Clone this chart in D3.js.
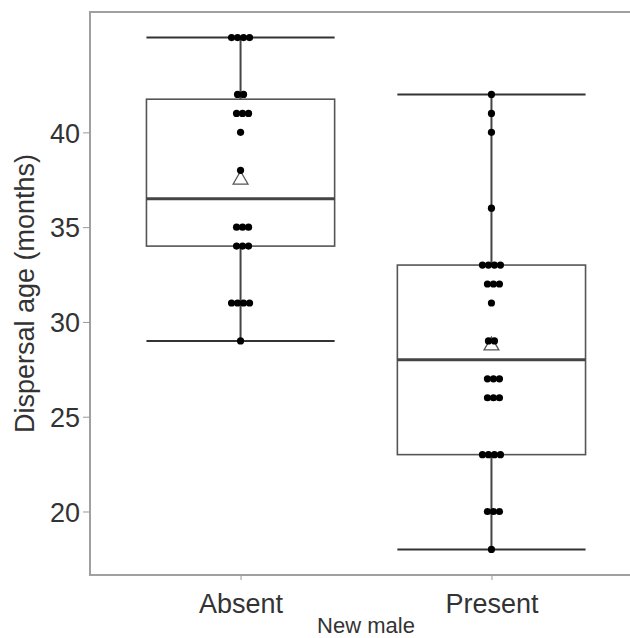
<!DOCTYPE html>
<html lang="en">
<head>
  <meta charset="UTF-8">
  <title>Dispersal age</title>
  <script src="https://cdn.jsdelivr.net/npm/d3@7"></script>
  <style>
    body { margin: 0; background: #fff; }
    text { font-family: "Liberation Sans", Arial, sans-serif; }
  </style>
</head>
<body>
  <svg width="630" height="638"></svg>
  <script>
    var groups = ['Absent', 'Present'];
    var absentAges = [45, 45, 45, 45, 42, 42, 41, 41, 41, 40, 38,
      35, 35, 35, 34, 34, 34, 31, 31, 31, 31, 29];
    var presentAges = [42, 41, 40, 36, 33, 33, 33, 33, 32, 32, 32, 31,
      29, 29, 27, 27, 27, 26, 26, 26, 23, 23, 23, 23, 20, 20, 20, 18];
    var yTicks = [20, 25, 30, 35, 40];

    var svg = d3.select('svg');
    var margin = { top: 12, left: 90, bottom: 575, right: 642 };

    var x = d3.scalePoint().domain(groups)
      .range([margin.left, margin.right]).padding(0.6);
    var y = d3.scaleLinear().domain([16.65, 46.35])
      .range([margin.bottom, margin.top]);
    var boxW = x.step() * 0.75;

    var series = [
      { name: 'Absent', values: absentAges },
      { name: 'Present', values: presentAges }
    ];
    series.forEach(function(s) {
      var v = s.values.slice().sort(d3.ascending);
      s.q1 = d3.quantile(v, 0.25);
      s.med = d3.quantile(v, 0.5);
      s.q3 = d3.quantile(v, 0.75);
      var iqr = s.q3 - s.q1;
      s.lo = d3.min(v.filter(function(d) { return d >= s.q1 - 1.5 * iqr; }));
      s.hi = d3.max(v.filter(function(d) { return d <= s.q3 + 1.5 * iqr; }));
      s.mean = d3.mean(v);
    });

    // panel border (right edge runs off the picture)
    svg.append('rect')
      .attr('x', margin.left).attr('y', margin.top)
      .attr('width', margin.right - margin.left)
      .attr('height', margin.bottom - margin.top)
      .attr('fill', 'none').attr('stroke', '#a0a0a0').attr('stroke-width', 2);

    // y axis
    var yAxis = svg.append('g')
      .attr('transform', 'translate(' + margin.left + ',0)')
      .call(d3.axisLeft(y).tickValues(yTicks).tickSize(7).tickPadding(3));
    yAxis.select('.domain').remove();
    yAxis.selectAll('line').attr('stroke', '#999');
    yAxis.selectAll('text').attr('fill', '#333').style('font-size', '27px')
      .attr('dy', '0.36em');

    // x axis
    var xAxis = svg.append('g')
      .attr('transform', 'translate(0,' + margin.bottom + ')')
      .call(d3.axisBottom(x).tickSize(5).tickPadding(14));
    xAxis.select('.domain').remove();
    xAxis.selectAll('line').attr('stroke', '#999');
    xAxis.selectAll('text').attr('fill', '#333').style('font-size', '27px');

    svg.append('text')
      .attr('transform', 'translate(34,' + ((margin.top + margin.bottom) / 2) + ') rotate(-90)')
      .attr('text-anchor', 'middle')
      .attr('fill', '#333')
      .style('font-size', '27px')
      .text('Dispersal age (months)');

    svg.append('text')
      .attr('x', (x('Absent') + x('Present')) / 2)
      .attr('y', 633)
      .attr('text-anchor', 'middle')
      .attr('fill', '#333')
      .style('font-size', '22px')
      .text('New male');

    var g = svg.selectAll('.box').data(series).enter().append('g').attr('class', 'box');

    // whiskers
    g.append('line')
      .attr('x1', function(d) { return x(d.name); })
      .attr('x2', function(d) { return x(d.name); })
      .attr('y1', function(d) { return y(d.hi); })
      .attr('y2', function(d) { return y(d.q3); })
      .attr('stroke', '#444').attr('stroke-width', 2);
    g.append('line')
      .attr('x1', function(d) { return x(d.name); })
      .attr('x2', function(d) { return x(d.name); })
      .attr('y1', function(d) { return y(d.q1); })
      .attr('y2', function(d) { return y(d.lo); })
      .attr('stroke', '#444').attr('stroke-width', 2);
    ['hi', 'lo'].forEach(function(k) {
      g.append('line')
        .attr('x1', function(d) { return x(d.name) - boxW / 2; })
        .attr('x2', function(d) { return x(d.name) + boxW / 2; })
        .attr('y1', function(d) { return y(d[k]); })
        .attr('y2', function(d) { return y(d[k]); })
        .attr('stroke', '#333').attr('stroke-width', 2);
    });

    // box
    g.append('rect')
      .attr('x', function(d) { return x(d.name) - boxW / 2; })
      .attr('y', function(d) { return y(d.q3); })
      .attr('width', boxW)
      .attr('height', function(d) { return y(d.q1) - y(d.q3); })
      .attr('fill', 'none').attr('stroke', '#555').attr('stroke-width', 1.6);
    g.append('line')
      .attr('x1', function(d) { return x(d.name) - boxW / 2; })
      .attr('x2', function(d) { return x(d.name) + boxW / 2; })
      .attr('y1', function(d) { return y(d.med); })
      .attr('y2', function(d) { return y(d.med); })
      .attr('stroke', '#444').attr('stroke-width', 3);

    // mean marker
    var tri = d3.symbol().type(d3.symbolTriangle).size(95);
    g.append('path')
      .attr('d', tri)
      .attr('transform', function(d) {
        return 'translate(' + x(d.name) + ',' + y(d.mean) + ')';
      })
      .attr('fill', 'white').attr('stroke', '#555').attr('stroke-width', 1.3);

    // points, spread sideways when values repeat
    series.forEach(function(s) {
      var counts = d3.rollup(s.values, function(v) { return v.length; }, function(d) { return d; });
      var seen = new Map();
      var pts = s.values.map(function(v) {
        var k = seen.get(v) || 0;
        seen.set(v, k + 1);
        var n = counts.get(v);
        return { v: v, dx: (k - (n - 1) / 2) * 6 + (n % 2 === 1 && n > 1 ? 2 : 0) };
      });
      svg.append('g').selectAll('circle').data(pts).enter().append('circle')
        .attr('cx', function(d) { return x(s.name) + d.dx; })
        .attr('cy', function(d) { return y(d.v); })
        .attr('r', 3.6)
        .attr('fill', '#000');
    });
  </script>
</body>
</html>
